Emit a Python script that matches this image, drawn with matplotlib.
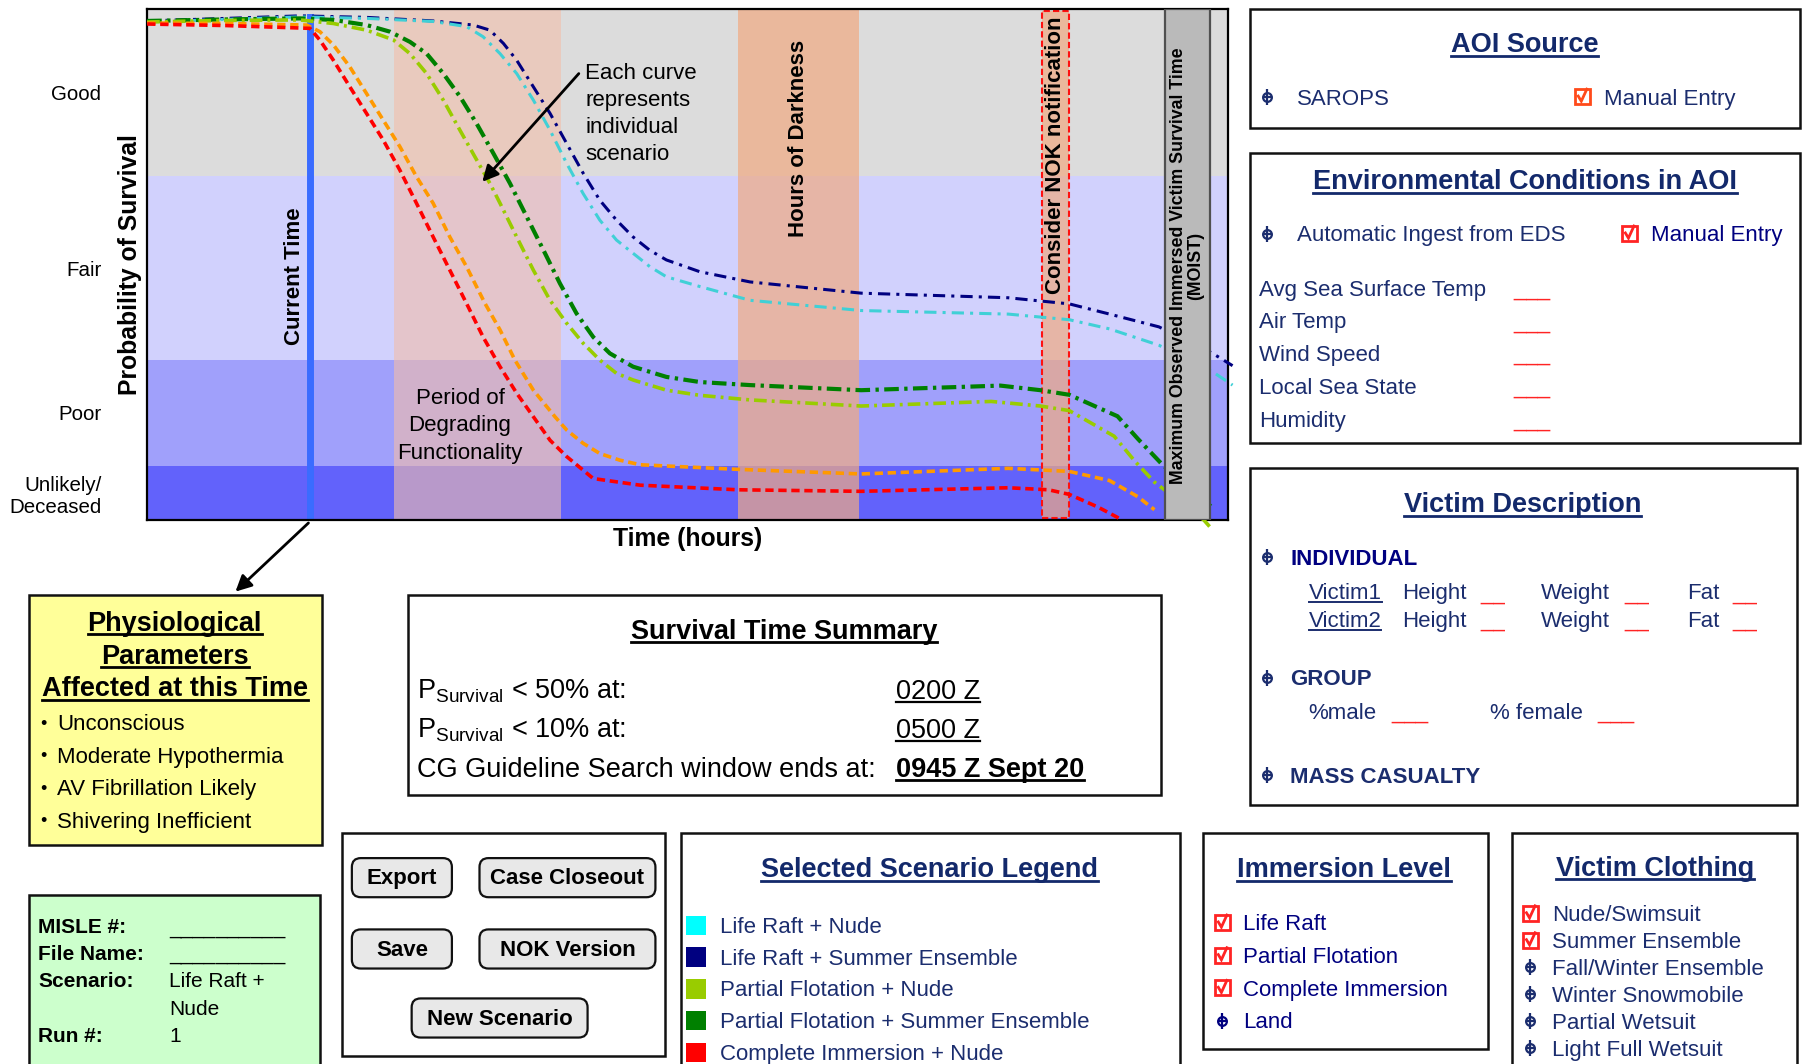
import matplotlib
matplotlib.use('Agg')
import matplotlib.pyplot as plt
from matplotlib.patches import Rectangle, FancyBboxPatch, FancyArrowPatch
from matplotlib.lines import Line2D
from matplotlib.colors import to_rgba
from matplotlib import font_manager

_names = {f.name for f in font_manager.fontManager.ttflist}
FONT = 'Liberation Sans' if 'Liberation Sans' in _names else 'DejaVu Sans'
plt.rcParams['font.family'] = [FONT, 'DejaVu Sans']
plt.rcParams['mathtext.fontset'] = 'custom'
plt.rcParams['mathtext.rm'] = FONT
plt.rcParams['mathtext.it'] = FONT + ':italic'
plt.rcParams['mathtext.bf'] = FONT + ':bold'
plt.rcParams['axes.linewidth'] = 1.6

# ------------------------------------------------------------------ data
x_max = 48                      # hours shown on the time axis
band_edges = [0, 10.6, 31.3, 67.3, 100]
band_labels = ['Unlikely/\nDeceased', 'Poor', 'Fair', 'Good']
band_colors = ['#6262FB', '#A0A0FB', '#D1D1FD', '#DCDCDC']

current_time = 7.25
degrading_period = [10.98, 18.38]
darkness_period = [26.24, 31.6]
nok_period = [39.72, 40.95]
moist_period = [45.19, 47.18]

# Life Raft + Summer Ensemble (navy)
raft_summer_x = [0, 3.5, 6.79, 9.74, 12.7, 14.48, 15.22, 15.82, 16.41, 17.15, 17.89, 18.63,
                 19.36, 20.1, 20.84, 21.58, 22.32, 23.06, 24.54, 26.77, 31.71, 38.24,
                 40.95, 42.74, 44.93, 47.28, 48.2]
raft_summer_y = [97.7, 98.2, 98.7, 98.4, 97.7, 96.9, 95.9, 93.3, 90.0, 84.8, 79.6, 73.7,
                 67.9, 62.6, 58.7, 55.4, 52.8, 50.9, 48.6, 46.6, 44.4, 43.5,
                 42.3, 40.3, 37.8, 32.7, 30.2]
# Life Raft + Nude (cyan)
raft_nude_x = [0, 3.5, 6.79, 9.74, 12.7, 14.18, 14.92, 15.67, 16.41, 17.15, 17.89, 18.63,
               19.36, 20.1, 20.84, 21.58, 22.32, 23.06, 24.54, 26.77, 31.71, 38.24,
               40.95, 42.74, 44.93, 47.28, 48.2]
raft_nude_y = [97.5, 98.0, 98.5, 98.2, 97.6, 96.6, 94.6, 91.3, 87.4, 82.2, 76.3, 69.8,
               63.9, 58.7, 54.8, 52.2, 49.6, 47.6, 45.7, 43.0, 41.0, 40.3,
               39.2, 37.4, 34.2, 29.1, 26.4]
# Partial Flotation + Summer Ensemble (green)
partial_summer_x = [0, 3.5, 6.79, 8.27, 9.74, 10.78, 11.67, 12.41, 13.15, 13.89, 14.63,
                    15.37, 16.11, 16.85, 17.6, 18.33, 19.07, 19.81, 20.55, 21.58, 23.06,
                    24.54, 26.77, 31.71, 37.89, 39.67, 40.95, 43.09, 44.01, 45.09, 47.28]
partial_summer_y = [97.7, 98.0, 98.2, 97.9, 96.9, 95.6, 93.6, 91.3, 87.4, 82.9, 77.6,
                    71.8, 65.9, 59.4, 52.8, 46.3, 40.4, 35.8, 32.6, 30.0, 28.0,
                    27.0, 26.4, 25.4, 26.3, 25.4, 24.5, 20.3, 15.8, 10.8, 2.5]
# Partial Flotation + Nude (yellow-green)
partial_nude_x = [0, 3.5, 6.79, 8.27, 9.74, 10.93, 11.67, 12.41, 13.15, 13.89, 14.63,
                  15.22, 15.67, 16.41, 17.15, 17.89, 18.63, 19.36, 20.1, 20.84, 21.58,
                  23.06, 24.54, 26.77, 31.71, 37.48, 39.67, 40.95, 42.94, 43.86, 44.73,
                  46.92, 47.28]
partial_nude_y = [97.5, 97.8, 97.9, 97.2, 95.9, 94.0, 91.3, 87.4, 82.2, 76.3, 70.5,
                  65.9, 62.0, 55.4, 48.9, 43.0, 38.5, 34.6, 31.3, 28.7, 27.4,
                  25.4, 24.4, 23.5, 22.3, 23.2, 22.3, 21.4, 16.4, 11.5, 7.4,
                  0.0, -1.8]
# Complete Immersion + Summer Ensemble (orange)
complete_summer_x = [0, 3.5, 7.08, 7.67, 8.27, 9.0, 9.74, 10.48, 11.22, 11.96, 12.7,
                     13.44, 14.18, 15.0, 15.67, 16.33, 17.15, 18.11, 18.63, 19.36, 20.1,
                     20.99, 21.9, 26.24, 31.71, 38.24, 40.95, 42.74, 44.01, 44.73]
complete_summer_y = [97.3, 97.2, 96.9, 95.6, 93.0, 88.7, 83.5, 78.3, 73.1, 67.2, 62.0,
                     55.4, 49.6, 42.4, 37.2, 31.3, 25.4, 20.2, 17.6, 15.0, 13.0,
                     11.7, 10.8, 9.9, 9.0, 10.1, 9.5, 7.7, 4.5, 2.0]
# Complete Immersion + Nude (red)
complete_nude_x = [0, 3.5, 7.23, 7.67, 8.27, 9.0, 9.74, 10.48, 11.22, 11.96, 12.7, 13.44,
                   14.18, 14.92, 15.67, 16.41, 17.15, 17.89, 18.63, 19.81, 21.9, 26.24,
                   31.71, 38.24, 40.03, 40.95, 42.23, 43.3]
complete_nude_y = [97.1, 96.8, 96.25, 93.95, 90.0, 84.8, 79.6, 74.4, 68.5, 62.0, 55.4, 48.9,
                   42.4, 35.8, 30.0, 24.8, 20.2, 15.6, 12.4, 8.1, 6.8, 5.9,
                   5.6, 6.3, 5.9, 5.0, 2.5, 0.0]

legend_names = ['Life Raft + Nude', 'Life Raft + Summer Ensemble', 'Partial Flotation + Nude',
                'Partial Flotation + Summer Ensemble', 'Complete Immersion + Nude']
legend_colors = ['#00FFFF', '#000080', '#99CC00', '#008000', '#FF0000']

env_fields = ['Avg Sea Surface Temp', 'Air Temp', 'Wind Speed', 'Local Sea State', 'Humidity']
phys_items = ['Unconscious', 'Moderate Hypothermia', 'AV Fibrillation Likely', 'Shivering Inefficient']
immersion_items = ['Life Raft', 'Partial Flotation', 'Complete Immersion', 'Land']
immersion_checked = [True, True, True, False]
clothing_items = ['Nude/Swimsuit', 'Summer Ensemble', 'Fall/Winter Ensemble',
                  'Winter Snowmobile', 'Partial Wetsuit', 'Light Full Wetsuit']
clothing_checked = [True, True, False, False, False, False]
summary_labels = [r'P$_{\rm Survival}$ < 50% at:', r'P$_{\rm Survival}$ < 10% at:',
                  'CG Guideline Search window ends at:']
summary_values = ['0200 Z', '0500 Z', '0945 Z Sept 20']
buttons = ['Export', 'Case Closeout', 'Save', 'NOK Version', 'New Scenario']

# ------------------------------------------------------------------ figure
W, H = 1803, 1064
fig = plt.figure(figsize=(W / 100, H / 100), dpi=100)
SX, SY = 1568.0, 925.0


def fx(x):
    return x / SX


def fy(y):
    return 1 - y / SY


NAVY = '#1B2D6E'
TITLE = '#13296B'
PURE_NAVY = '#000080'
RED = '#FF2424'

underlined = []


def txt(x, y, s, size=16, color='black', weight='normal', ha='left', **kw):
    base = y + 0.4324 * size
    return fig.text(fx(x), fy(base), s, fontsize=size, color=color, fontweight=weight,
                    ha=ha, va='baseline', **kw)


def utxt(x, y, s, size=19.5, color=TITLE, weight='bold', ha='center', lw=2.0):
    t = txt(x, y, s, size=size, color=color, weight=weight, ha=ha)
    underlined.append((t, lw))
    return t


def box(x0, y0, x1, y1, fc='white', lw=1.8):
    fig.add_artist(Rectangle((fx(x0), fy(y1)), fx(x1) - fx(x0), fy(y0) - fy(y1),
                             transform=fig.transFigure, facecolor=fc, edgecolor='#111111',
                             lw=lw, zorder=0.5))


def bullet(x, y, color=NAVY):
    X, Y = fx(x), fy(y)
    for m, ms in (('o', 6.3), ('|', 12), ('_', 6.3)):
        fig.add_artist(Line2D([X], [Y], marker=m, ms=ms, mfc='none', mec=color, mew=1.6,
                              ls='none', transform=fig.transFigure, zorder=3))


def check(x, y, color=RED):
    h = 6.5
    fig.add_artist(Rectangle((fx(x - h), fy(y + h)), fx(2 * h), fy(y - h) - fy(y + h),
                             transform=fig.transFigure, facecolor='none', edgecolor=color,
                             lw=2.0, zorder=3))
    fig.add_artist(Line2D([fx(x - 3.5), fx(x - 0.8), fx(x + 4.0)],
                          [fy(y - 0.5), fy(y + 4.0), fy(y - 6.5)],
                          transform=fig.transFigure, color=color, lw=2.0, zorder=3,
                          solid_joinstyle='miter'))


# ------------------------------------------------------------------ chart
ax = fig.add_axes([fx(128), fy(452), (1068 - 128) / SX, (452 - 8) / SY])
ax.set_xlim(0, x_max)
ax.set_ylim(0, 100)
for lo, hi, c in zip(band_edges[:-1], band_edges[1:], band_colors):
    ax.axhspan(lo, hi, color=c, lw=0, zorder=0)
ax.axvspan(*degrading_period, facecolor=to_rgba('#F2BEAA', 0.6), lw=0, zorder=1)
ax.axvspan(*darkness_period, facecolor=to_rgba('#F0AA82', 0.7), lw=0, zorder=1)
ax.add_patch(Rectangle((nok_period[0], 0.3), nok_period[1] - nok_period[0], 99.4,
                       facecolor=to_rgba('#F0AA82', 0.7), edgecolor='#FF1010', ls=(0, (3, 1.5)),
                       lw=1.5, zorder=2))
ax.axvline(current_time, ymin=0, ymax=0.985, color='#3A6CFF', lw=5, zorder=2.5)

curves = [
    (raft_summer_x, raft_summer_y, '#000080', 2.2, (4, 2, 1, 2)),
    (raft_nude_x, raft_nude_y, '#40D0D6', 2.2, (4, 2, 1, 2)),
    (partial_summer_x, partial_summer_y, '#008000', 3.0, (3.5, 1.3, 0.8, 1.3)),
    (partial_nude_x, partial_nude_y, '#99CC00', 2.6, (3.5, 1.4, 0.8, 1.4)),
    (complete_summer_x, complete_summer_y, '#FF9900', 2.6, (2.3, 1.3)),
    (complete_nude_x, complete_nude_y, '#FF0000', 2.6, (2.3, 1.3)),
]
for xs, ys, c, lw, d in curves:
    ax.plot(xs, ys, color=c, lw=lw, dashes=d, zorder=3, clip_on=False,
            solid_capstyle='butt', dash_capstyle='butt', solid_joinstyle='round')

ax.add_patch(Rectangle((moist_period[0], 0), moist_period[1] - moist_period[0], 100,
                       facecolor='#BABABA', edgecolor='#505050', lw=1.6, zorder=4))
ax.text(sum(moist_period) / 2, 49.8,
        'Maximum Observed Immersed Victim Survival Time\n(MOIST)', rotation=90,
        ha='center', va='center', multialignment='center', fontsize=12.8,
        fontweight='bold', linespacing=1.0, zorder=5)

ax.text(6.54, 47.7, 'Current Time', rotation=90, ha='center', va='center',
        fontsize=16, fontweight='bold', zorder=6)
ax.text(sum(darkness_period) / 2, 93.9, 'Hours of Darkness', rotation=90, ha='center',
        va='top', fontsize=16, fontweight='bold', zorder=6)
ax.text(sum(nok_period) / 2, 98.6, 'Consider NOK notification', rotation=90, ha='center',
        va='top', fontsize=16, fontweight='bold', zorder=6)

ax.set_xticks([])
ax.set_yticks([(a + b) / 2 for a, b in zip(band_edges[:-1], band_edges[1:])])
ax.set_yticklabels(band_labels, fontsize=14.8)
ax.tick_params(axis='y', length=0, pad=33)
ax.text(-0.016, 0.5, 'Probability of Survival', transform=ax.transAxes, rotation=90,
        ha='center', va='center', fontsize=17.8, fontweight='bold')
ax.text(0.5, -0.037, 'Time (hours)', transform=ax.transAxes, ha='center', va='center',
        fontsize=17.8, fontweight='bold')
ax.annotate('', xy=(14.8, 65.8), xytext=(19.25, 87.8),
            arrowprops=dict(arrowstyle='-|>', color='black', lw=2, mutation_scale=24),
            zorder=7)
for i, line in enumerate(['Each curve', 'represents', 'individual', 'scenario']):
    txt(509, 62 + 23.4 * i, line, size=16)
for i, line in enumerate(['Period of', 'Degrading', 'Functionality']):
    txt(400, 344 + 24 * i, line, size=16, ha='center')

fig.add_artist(FancyArrowPatch((fx(270), fy(453)), (fx(203), fy(516)),
                               transform=fig.transFigure, arrowstyle='-|>',
                               mutation_scale=24, lw=2, color='black', zorder=3))

# ------------------------------------------------------------------ AOI source
box(1087, 8, 1565, 111)
utxt(1326, 37, 'AOI Source')
bullet(1102, 84)
txt(1128, 84, 'SAROPS', color=NAVY)
check(1376, 84, color='#FF4A1A')
txt(1395, 84, 'Manual Entry', color=NAVY)

# ------------------------------------------------------------------ environment
box(1087, 133, 1565, 385)
utxt(1326, 156, 'Environmental Conditions in AOI')
bullet(1102, 203)
txt(1128, 203, 'Automatic Ingest from EDS', color=NAVY)
check(1417, 203)
txt(1436, 203, 'Manual Entry', color=PURE_NAVY)
for i, f in enumerate(env_fields):
    y = 250 + 28.5 * i
    txt(1095, y, f, color=NAVY)
    txt(1316, y, '___', color=RED)

# ------------------------------------------------------------------ victim description
box(1087, 407, 1563, 700)
utxt(1324, 437, 'Victim Description')
bullet(1102, 484)
txt(1122, 484, 'INDIVIDUAL', color=PURE_NAVY, weight='bold')
for i, v in enumerate(['Victim1', 'Victim2']):
    y = 514 + 24 * i
    utxt(1138, y, v, size=16, color=NAVY, weight='normal', ha='left', lw=1.4)
    txt(1219, y, 'Height', color=NAVY)
    txt(1287, y, '__', color=RED)
    txt(1340, y, 'Weight', color=NAVY)
    txt(1413, y, '__', color=RED)
    txt(1467, y, 'Fat', color=NAVY)
    txt(1507, y, '__', color=RED)
bullet(1102, 589)
txt(1122, 589, 'GROUP', color=NAVY, weight='bold')
txt(1138, 618, '%male', color=NAVY)
txt(1210, 618, '___', color=RED)
txt(1296, 618, '% female', color=NAVY)
txt(1389, 618, '___', color=RED)
bullet(1102, 674)
txt(1122, 674, 'MASS CASUALTY', color=NAVY, weight='bold')

# ------------------------------------------------------------------ physiological
box(25, 517, 280, 735, fc='#FFFF99')
for i, line in enumerate(['Physiological', 'Parameters', 'Affected at this Time']):
    utxt(152, 540 + 28.5 * i, line, color='black')
for i, item in enumerate(phys_items):
    y = 628 + 28.3 * i
    txt(35, y, '\u2022', size=13)
    txt(50, y, item)

# ------------------------------------------------------------------ case info
box(25, 778, 278, 935, fc='#CCFFCC')
txt(33, 805, 'MISLE #:', size=15, weight='bold')
txt(33, 828, 'File Name:', size=15, weight='bold')
txt(33, 852, 'Scenario:', size=15, weight='bold')
txt(33, 899, 'Run #:', size=15, weight='bold')
txt(147, 805, '__________', size=15)
txt(147, 828, '__________', size=15)
txt(147, 852, 'Life Raft +', size=15)
txt(147, 876, 'Nude', size=15)
txt(147, 899, '1', size=15)

# ------------------------------------------------------------------ survival summary
box(355, 517, 1010, 691)
utxt(682, 547, 'Survival Time Summary', color='black')
for i, (lab, val) in enumerate(zip(summary_labels, summary_values)):
    y = 599 + 34 * i
    txt(363, y, lab, size=19.5)
    utxt(779, y, val, size=19.5, color='black', weight='bold' if i == 2 else 'normal',
         ha='left', lw=1.6 if i < 2 else 2.0)

# ------------------------------------------------------------------ buttons
box(297, 724, 578, 918)
button_boxes = [(306, 746, 393, 780), (417, 746, 570, 780), (306, 808, 393, 842),
                (417, 808, 570, 842), (358, 868, 511, 902)]
for name, (x0, y0, x1, y1) in zip(buttons, button_boxes):
    fig.add_artist(FancyBboxPatch((fx(x0), fy(y1)), fx(x1) - fx(x0), fy(y0) - fy(y1),
                                  boxstyle='round,pad=0,rounding_size=0.005',
                                  mutation_aspect=W / H, transform=fig.transFigure,
                                  facecolor='#E8E8E8', edgecolor='#111111', lw=1.6, zorder=1))
    txt((x0 + x1) / 2, (y0 + y1) / 2 - 1, name, size=16, weight='bold', ha='center')

# ------------------------------------------------------------------ scenario legend
box(592, 724, 1026, 940)
utxt(808, 754, 'Selected Scenario Legend')
for i, (name, c) in enumerate(zip(legend_names, legend_colors)):
    y = 804 + 27.6 * i
    fig.add_artist(Rectangle((fx(597), fy(y + 9)), fx(614) - fx(597), fy(y - 8) - fy(y + 9),
                             transform=fig.transFigure, facecolor=c, lw=0, zorder=2))
    txt(626, y, name, color=NAVY)

# ------------------------------------------------------------------ immersion level
box(1046, 724, 1294, 912)
utxt(1169, 754, 'Immersion Level')
for i, (name, on) in enumerate(zip(immersion_items, immersion_checked)):
    y = 802 + 28.4 * i
    if on:
        check(1063, y)
    else:
        bullet(1063, y, color=PURE_NAVY)
    txt(1081, y, name, color=PURE_NAVY)

# ------------------------------------------------------------------ clothing
box(1315, 724, 1563, 940)
utxt(1439, 753, 'Victim Clothing')
for i, (name, on) in enumerate(zip(clothing_items, clothing_checked)):
    y = 794 + 23.4 * i
    if on:
        check(1331, y)
    else:
        bullet(1331, y)
    txt(1350, y, name, color=NAVY)

# ------------------------------------------------------------------ underlines
fig.canvas.draw()
renderer = fig.canvas.get_renderer()
for t, lw in underlined:
    bb = t.get_window_extent(renderer)
    yb = t.get_position()[1]
    off = t.get_fontsize() * 0.13 * (100 / 72) / H
    fig.add_artist(Line2D([bb.x0 / W, bb.x1 / W], [yb - off, yb - off],
                          transform=fig.transFigure, color=t.get_color(), lw=lw, zorder=3))

fig.savefig('out.png', dpi=100)
